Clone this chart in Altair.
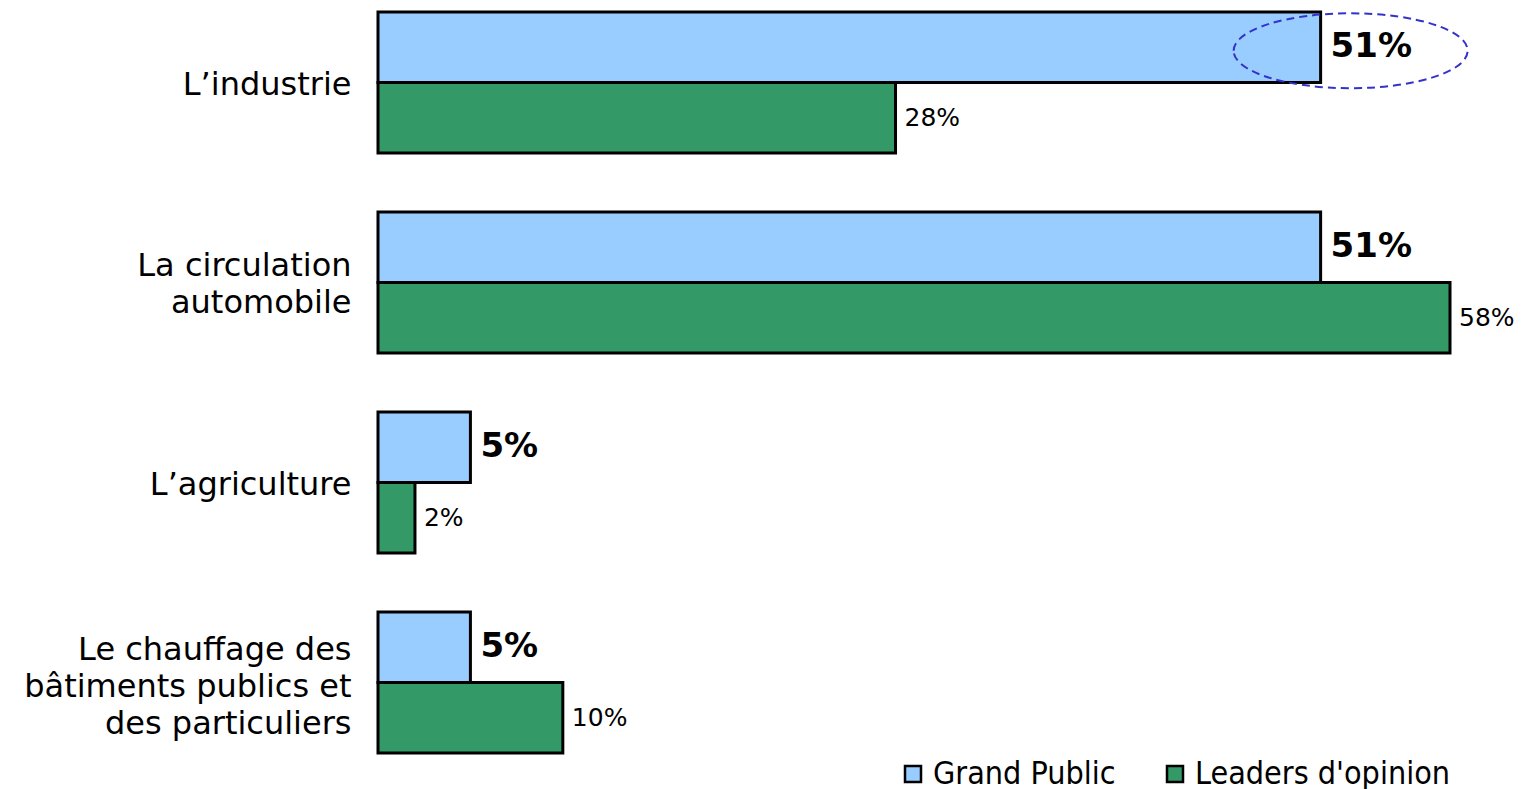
import altair as alt
import pandas as pd

categories = [
    "L’industrie",
    "La circulation\nautomobile",
    "L’agriculture",
    "Le chauffage des\nbâtiments publics et\ndes particuliers",
]
series = ["Grand Public", "Leaders d'opinion"]
grand_public = [51, 51, 5, 5]
leaders = [28, 58, 2, 10]
colors = ["#99CCFF", "#339966"]

rows = []
for i, c in enumerate(categories):
    rows.append({"cat": c, "serie": series[0], "val": grand_public[i], "lab": f"{grand_public[i]}%"})
    rows.append({"cat": c, "serie": series[1], "val": leaders[i], "lab": f"{leaders[i]}%"})
df = pd.DataFrame(rows)

# highlighted value (dashed ellipse annotation)
highlight = pd.DataFrame([{"cat": categories[0], "serie": series[0], "val": grand_public[0]}])

font = "DejaVu Sans"
LH = 37

y_enc = alt.Y(
    "cat:N",
    sort=categories,
    scale=alt.Scale(paddingInner=0.295, paddingOuter=0),
    axis=alt.Axis(
        title=None, domain=False, ticks=False, labelFontSize=32, labelFont=font,
        labelColor="black", labelAlign="right", labelPadding=27, labelLimit=500,
        labelLineHeight=LH, labelExpr="split(datum.value, '\\n')",
        labelOffset={
            "condition": [
                {"test": "length(split(datum.value, '\\n')) == 2", "value": -LH / 2 + 2},
                {"test": "length(split(datum.value, '\\n')) == 3", "value": -LH + 4},
            ],
            "value": 2,
        },
    ),
)
x_enc = alt.X("val:Q", scale=alt.Scale(domain=[0, 58], nice=False), axis=None)
yoff = alt.YOffset("serie:N", sort=series, scale=alt.Scale(paddingInner=0, paddingOuter=0))

base = alt.Chart(df)

bars = base.mark_bar(stroke="black", strokeWidth=3).encode(
    y=y_enc,
    x=x_enc,
    yOffset=yoff,
    fill=alt.Fill(
        "serie:N",
        sort=series,
        scale=alt.Scale(domain=series, range=colors),
        legend=alt.Legend(
            title=None, orient="none", direction="horizontal", legendX=519, legendY=746,
            labelFont="DejaVu Sans Condensed", labelFontSize=32, labelColor="black",
            symbolType="square", symbolSize=256, symbolStrokeColor="black",
            symbolStrokeWidth=2.5, symbolOpacity=1, labelOffset=4, columnPadding=43,
            padding=0, offset=0, labelLimit=400,
        ),
    ),
)

lab_gp = base.transform_filter(alt.datum.serie == series[0]).mark_text(
    align="left", baseline="middle", dx=10, fontSize=34, fontWeight="bold", font=font, color="black"
).encode(y=y_enc, x=x_enc, yOffset=yoff, text="lab:N")

lab_ld = base.transform_filter(alt.datum.serie == series[1]).mark_text(
    align="left", baseline="middle", dx=9, fontSize=25, font=font, color="black"
).encode(y=y_enc, x=x_enc, yOffset=yoff, text="lab:N")

ellipse_path = (
    "M -1 0.03 C -1 -0.1467 -0.5523 -0.29 0 -0.29 C 0.5523 -0.29 1 -0.1467 1 0.03 "
    "C 1 0.2067 0.5523 0.35 0 0.35 C -0.5523 0.35 -1 0.2067 -1 0.03 Z"
)
ell = alt.Chart(highlight).mark_point(
    shape=ellipse_path, size=54756, filled=False, stroke="#3333CC", strokeWidth=2,
    strokeDash=[8, 5], opacity=1, xOffset=30,
).encode(y=y_enc, x=x_enc, yOffset=yoff)

chart = alt.layer(bars, lab_gp, lab_ld, ell).properties(
    width=1072, height=741,
    autosize=alt.AutoSizeParams(type="none"),
    padding={"left": 370, "top": 4, "right": 64, "bottom": 36},
    background="white",
).configure_view(stroke=None)

chart.save("out.html", embed_options={"renderer": "svg", "actions": False})
